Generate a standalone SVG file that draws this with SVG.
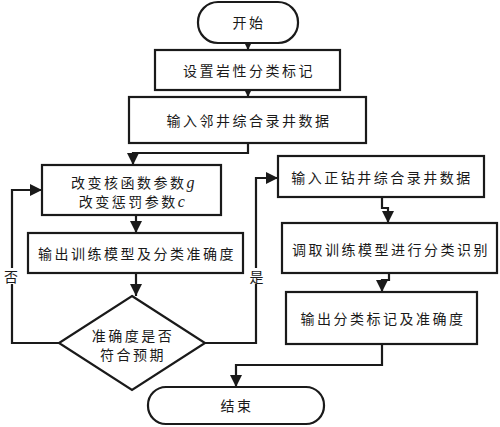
<svg xmlns="http://www.w3.org/2000/svg" width="500" height="427" viewBox="0 0 500 427">
<defs>
<style>
.b{fill:#fff;stroke:#1a1a1a;stroke-width:2.2}
.t{font-family:"Noto Sans CJK SC","Noto Sans",sans-serif;font-size:14px;letter-spacing:2.5px;fill:#1a1a1a;text-anchor:middle;dominant-baseline:central}
.l{fill:none;stroke:#1a1a1a;stroke-width:2.2}
.i{font-family:"Liberation Serif",serif;font-style:italic;font-size:16px}
.bg{fill:#fff}
</style>
<marker id="a" markerUnits="userSpaceOnUse" markerWidth="12" markerHeight="12" refX="12" refY="6" orient="auto">
<path d="M0,0 L12,6 L0,12 Z" fill="#1a1a1a"/>
</marker>
</defs>
<g id="connectors">
<path class="l" d="M248,43 V50" marker-end="url(#a)"/>
<path class="l" d="M248,90 V97" marker-end="url(#a)"/>
<path class="l" d="M248,143 V153 H133 V165" marker-end="url(#a)"/>
<path class="l" d="M136,215 V233" marker-end="url(#a)"/>
<path class="l" d="M136,273 V296" marker-end="url(#a)"/>
<path class="l" d="M59,343 H12 V190 H42" marker-end="url(#a)"/>
<path class="l" d="M205,343 H256 V178 H278" marker-end="url(#a)"/>
<path class="l" d="M382,197 V208 H388 V223" marker-end="url(#a)"/>
<path class="l" d="M389,273 V280 H382 V292" marker-end="url(#a)"/>
<path class="l" d="M382,344 V365 H236 V387" marker-end="url(#a)"/>
<rect class="bg" x="4" y="268" width="15" height="16"/>
<text class="t" x="11" y="276" style="letter-spacing:0">否</text>
<rect class="bg" x="249" y="268" width="15" height="16"/>
<text class="t" x="256.5" y="276" style="letter-spacing:0">是</text>
</g>
<g id="start"><rect class="b" x="198" y="2" width="100" height="41" rx="20"/><text class="t" x="249" y="22">开始</text></g>
<g id="setLabel"><rect class="b" x="155" y="50" width="185" height="40"/><text class="t" x="249" y="70">设置岩性分类标记</text></g>
<g id="inputNeighbor"><rect class="b" x="129" y="97" width="237" height="46"/><text class="t" x="249" y="120">输入邻井综合录井数据</text></g>
<g id="changeParams"><rect class="b" x="42" y="165" width="179" height="50"/><text class="t" x="134" y="182">改变核函数参数<tspan class="i">g</tspan></text><text class="t" x="133" y="201">改变惩罚参数<tspan class="i">c</tspan></text></g>
<g id="outputModel"><rect class="b" x="28" y="233" width="215" height="40"/><text class="t" x="137" y="253">输出训练模型及分类准确度</text></g>
<g id="decision"><polygon class="b" points="132,296 205,343 132,390 59,343"/><text class="t" x="133" y="335">准确度是否</text><text class="t" x="133" y="354">符合预期</text></g>
<g id="inputDrilling"><rect class="b" x="278" y="156" width="206" height="41"/><text class="t" x="382" y="177">输入正钻井综合录井数据</text></g>
<g id="classify"><rect class="b" x="282" y="223" width="215" height="50"/><text class="t" x="391" y="249">调取训练模型进行分类识别</text></g>
<g id="outputLabel"><rect class="b" x="286" y="292" width="191" height="52"/><text class="t" x="383" y="318">输出分类标记及准确度</text></g>
<g id="end"><rect class="b" x="148" y="387" width="176" height="37" rx="18"/><text class="t" x="237" y="405">结束</text></g>
</svg>
